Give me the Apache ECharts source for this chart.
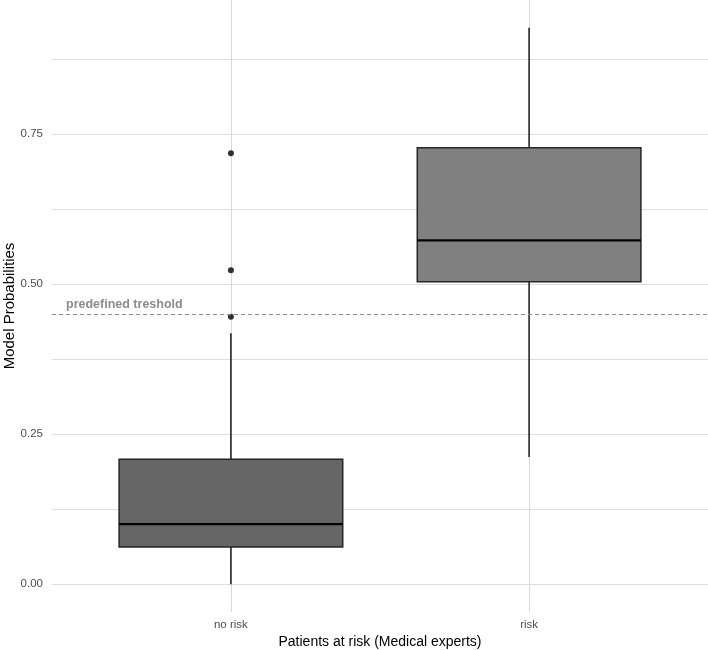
<!DOCTYPE html>
<html>
<head>
<meta charset="utf-8">
<script src="https://cdn.jsdelivr.net/npm/echarts@6/dist/echarts.min.js"></script>
<style>
  html, body { margin: 0; padding: 0; background: #ffffff; }
  #chart { width: 708px; height: 650px; }
</style>
</head>
<body>
<div id="chart"></div>
<script>
// ---- data ----
const categories = ['no risk', 'risk'];
const categoryPos = [1, 2];
const whiskerLow = [0.000, 0.212];
const q1 = [0.062, 0.504];
const median = [0.100, 0.573];
const q3 = [0.208, 0.727];
const whiskerHigh = [0.418, 0.927];
const boxFill = ['#666666', '#808080'];
const outlierCategory = [1, 1, 1];
const outlierValues = [0.718, 0.523, 0.4455];
const threshold = 0.453;
const thresholdLabel = 'predefined treshold';
const yLabelTicks = [0, 0.25, 0.5, 0.75];
const yGridTicks = [0, 0.125, 0.25, 0.375, 0.5, 0.625, 0.75, 0.875];

const FONT = '"Liberation Sans", Arial, sans-serif';

const boxData = categories.map((c, i) => [categoryPos[i], whiskerLow[i], q1[i], median[i], q3[i], whiskerHigh[i], i]);
const outlierData = outlierValues.map((v, i) => [outlierCategory[i], v]);

const chart = echarts.init(document.getElementById('chart'), null, { renderer: 'canvas' });

chart.setOption({
  backgroundColor: '#ffffff',
  animation: false,
  grid: { left: 52, right: 0, top: 0, bottom: 38, containLabel: false, outerBoundsMode: 'none' },
  xAxis: {
    type: 'value',
    min: 0.4,
    max: 2.6,
    name: 'Patients at risk (Medical experts)',
    nameLocation: 'middle',
    nameGap: 23,
    nameMoveOverlap: false,
    nameTextStyle: { fontFamily: FONT, fontSize: 14, color: '#000000' },
    axisLine: { show: false },
    axisTick: { show: false, customValues: categoryPos },
    axisLabel: {
      customValues: categoryPos,
      margin: 7,
      fontFamily: FONT, fontSize: 11.5, color: '#4d4d4d',
      formatter: function (v) {
        const idx = categoryPos.findIndex(p => Math.abs(p - v) < 1e-6);
        return idx >= 0 ? categories[idx] : '';
      }
    },
    splitLine: { show: true, lineStyle: { color: '#d9d9d9', width: 1 } }
  },
  yAxis: {
    type: 'value',
    min: -0.04635,
    max: 0.97335,
    name: 'Model Probabilities',
    nameLocation: 'middle',
    nameGap: 35,
    nameMoveOverlap: false,
    nameTextStyle: { fontFamily: FONT, fontSize: 15, color: '#000000' },
    axisLine: { show: false },
    axisTick: { show: false, customValues: yGridTicks },
    axisLabel: {
      customValues: yLabelTicks,
      margin: 9,
      fontFamily: FONT, fontSize: 11.5, color: '#4d4d4d',
      formatter: function (v) { return v.toFixed(2); }
    },
    splitLine: { show: true, lineStyle: { color: '#dedede', width: 1 } }
  },
  series: [
    {
      type: 'custom',
      name: 'box',
      data: boxData,
      encode: { x: 0, y: [1, 2, 3, 4, 5] },
      z: 3,
      renderItem: function (params, api) {
        const x = api.value(0);
        const lo = api.coord([x, api.value(1)]);
        const b = api.coord([x, api.value(2)]);
        const m = api.coord([x, api.value(3)]);
        const t = api.coord([x, api.value(4)]);
        const hi = api.coord([x, api.value(5)]);
        const idx = api.value(6);
        const w = api.size([0.75, 0])[0];
        const cx = lo[0];
        return {
          type: 'group',
          children: [
            { type: 'line', shape: { x1: cx, y1: t[1], x2: cx, y2: hi[1] },
              style: { stroke: '#1a1a1a', lineWidth: 1.5 } },
            { type: 'line', shape: { x1: cx, y1: b[1], x2: cx, y2: lo[1] },
              style: { stroke: '#1a1a1a', lineWidth: 1.5 } },
            { type: 'rect', shape: { x: cx - w / 2, y: t[1], width: w, height: b[1] - t[1] },
              style: { fill: boxFill[idx], stroke: '#262626', lineWidth: 1.5 } },
            { type: 'line', shape: { x1: cx - w / 2, y1: m[1], x2: cx + w / 2, y2: m[1] },
              style: { stroke: '#000000', lineWidth: 2.2 } }
          ]
        };
      }
    },
    {
      type: 'scatter',
      name: 'outliers',
      data: outlierData,
      symbol: 'circle',
      symbolSize: 6,
      itemStyle: { color: '#000000' },
      z: 4,
      markLine: {
        silent: true,
        symbol: ['none', 'none'],
        lineStyle: { color: '#8c8c8c', type: [4, 3], width: 1 },
        label: {
          show: true,
          position: 'insideStartTop',
          formatter: thresholdLabel,
          fontFamily: FONT, fontSize: 12.5, fontWeight: 'bold', color: '#8c8c8c',
          distance: [14, 3]
        },
        data: [{ yAxis: threshold }]
      }
    }
  ]
});
</script>
</body>
</html>
